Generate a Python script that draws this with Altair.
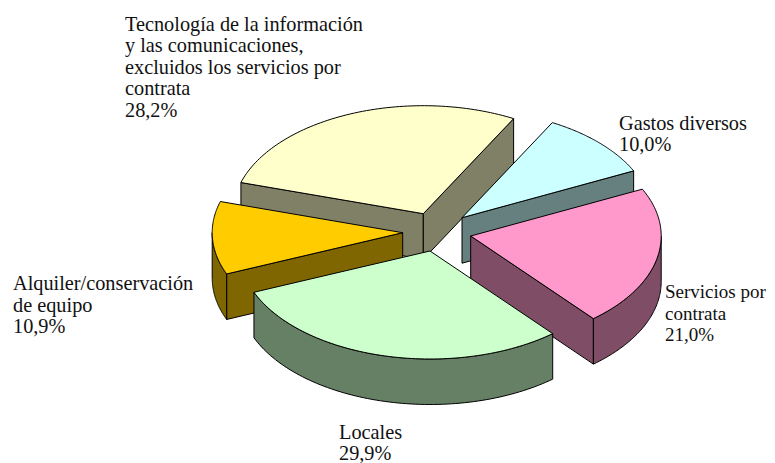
import math
import altair as alt

# Data, clockwise from the first slice
categories = ["Gastos diversos", "Servicios por contrata", "Locales",
              "Alquiler/conservación de equipo",
              "Tecnología de la información y las comunicaciones, excluidos los servicios por contrata"]
values = [10.0, 21.0, 29.9, 10.9, 28.2]
value_labels = ["10,0%", "21,0%", "29,9%", "10,9%", "28,2%"]

# Styling and layout
top_colors = ["#CCFFFF", "#FF99CC", "#CCFFCC", "#FFCC00", "#FFFFCC"]
side_colors = ["#668080", "#804D66", "#668066", "#806600", "#808066"]
apexes = [(462.0, 217.7), (470.7, 236.0), (430.0, 251.0), (402.7, 232.7), (423.3, 213.7)]
first_angle = 28.3
rx, ry, depth = 190.5, 108.0, 45.5
paint_order = [4, 0, 3, 1, 2]

label_lines = [
    "Gastos diversos\n10,0%",
    "Servicios por\ncontrata\n21,0%",
    "Locales\n29,9%",
    "Alquiler/conservación\nde equipo\n10,9%",
    "Tecnología de la información\ny las comunicaciones,\nexcluidos los servicios por\ncontrata\n28,2%",
]
label_pos = [(619, 129.5), (665, 298.3), (339, 438.5), (13, 290), (125, 30.5)]
label_sizes = [20.3, 19, 20.3, 20.3, 20.3]


def rim(apex, t):
    r = math.radians(t)
    return (apex[0] + rx * math.sin(r), apex[1] - ry * math.cos(r))


def down(p):
    return (p[0], p[1] + depth)


def feature(points, fill):
    ring = [list(p) for p in points] + [list(points[0])]
    return {"type": "Feature", "properties": {"fill": fill},
            "geometry": {"type": "Polygon", "coordinates": [ring]}}


features = []
starts, acc = [], first_angle
for v in values:
    starts.append(acc)
    acc += v * 3.6

for i in paint_order:
    apex, t1 = apexes[i], starts[i]
    t2 = t1 + values[i] * 3.6
    steps = [t1 + (t2 - t1) * k / 80 for k in range(81)]
    arc = [rim(apex, t) for t in steps]
    # radial walls that face the viewer
    if math.sin(math.radians(t1)) < 0:
        p = rim(apex, t1)
        features.append(feature([apex, p, down(p), down(apex)], side_colors[i]))
    if math.sin(math.radians(t2)) > 0:
        p = rim(apex, t2)
        features.append(feature([apex, p, down(p), down(apex)], side_colors[i]))
    # outer wall on the front half
    lo, hi = max(t1, 90), min(t2, 270)
    if lo < hi:
        front = [rim(apex, lo + (hi - lo) * k / 80) for k in range(81)]
        features.append(feature(front + [down(p) for p in reversed(front)], side_colors[i]))
    # top face
    features.append(feature([apex] + arc, top_colors[i]))

pie = (
    alt.Chart(alt.Data(values=features))
    .mark_geoshape(stroke="black", strokeWidth=1, strokeJoin="round")
    .encode(fill=alt.Fill("properties.fill:N", scale=None))
    .project(type="identity", scale=1, translate=[-8, -8])
)

layers = [pie]
for text, (x, y), size in zip(label_lines, label_pos, label_sizes):
    layers.append(
        alt.Chart(alt.Data(values=[{"label": text}]))
        .mark_text(font="Liberation Serif", fontSize=size, align="left", baseline="alphabetic",
                   lineBreak="\n", lineHeight=21.6, color="#111111")
        .encode(text="label:N", x=alt.value(x - 8), y=alt.value(y - 8))
    )

chart = (
    alt.layer(*layers)
    .properties(width=759, height=455, padding=0, autosize=alt.AutoSizeParams(type="none"))
    .configure_view(stroke=None)
)
chart.save("out.html", embed_options={"renderer": "svg", "actions": False})
